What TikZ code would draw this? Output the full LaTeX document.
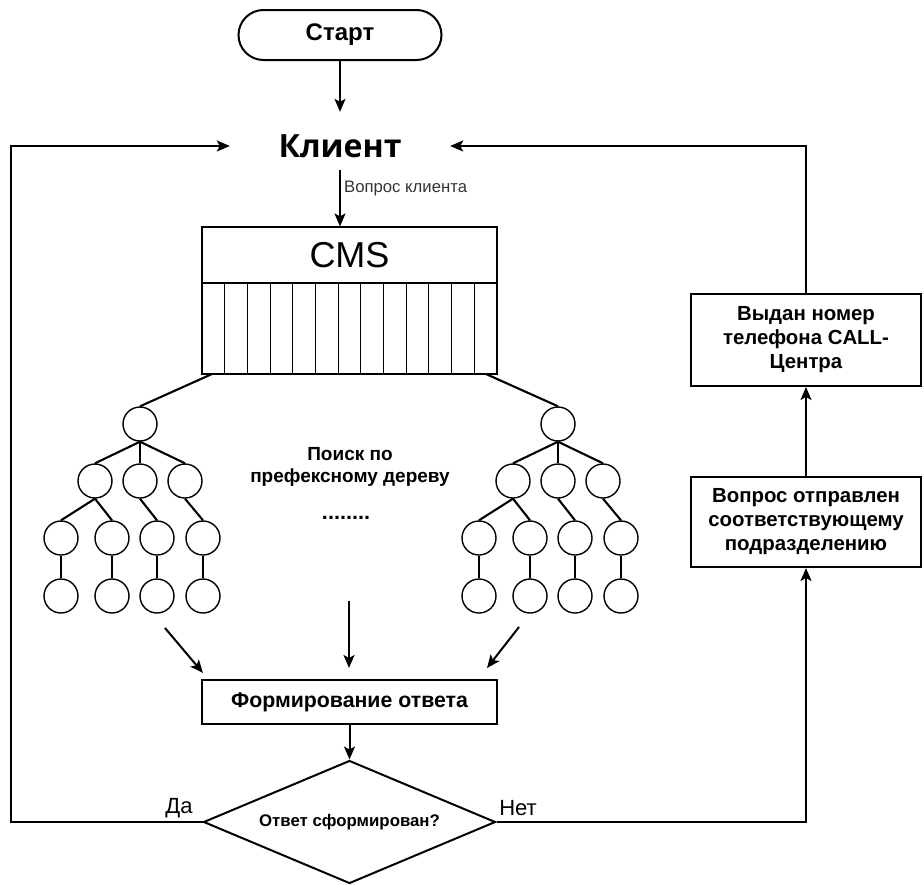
\documentclass[tikz,border=0pt]{standalone}
\usepackage{fontspec}
\setmainfont{Liberation Sans}
\newfontfamily\osans{Open Sans}
\usetikzlibrary{arrows.meta,shapes.geometric}
\begin{document}
\begin{tikzpicture}[x=1pt,y=-1pt,
  arr/.style={line width=2pt,-{Stealth[length=13pt,width=11pt,inset=3pt]}},
  box/.style={draw,line width=2pt,align=center,font=\bfseries\fontsize{20.4}{24}\selectfont,inner sep=0pt},
  tc/.style={draw,circle,line width=1.4pt,minimum size=34pt,inner sep=0pt},
  te/.style={line width=2.1pt}]
\useasboundingbox (0,0) rectangle (924,884);
% start
\node[draw,line width=2pt,rounded corners=25pt,minimum width=203pt,minimum height=50pt,inner sep=0pt,font=\bfseries\fontsize{24}{26}\selectfont] (start) at (340,35) {Старт};
\node[minimum width=220pt,minimum height=58pt,inner sep=0pt,font=\osans\bfseries\fontsize{32}{36}\selectfont] (client) at (340,146) {Клиент};
\draw[arr] (start.south) -- ([yshift=5pt]client.north);
% CMS
\node[draw,line width=1.1pt,minimum width=295pt,minimum height=147pt,inner sep=0pt] (cms) at (349.5,300.5) {};
\node[font=\fontsize{36}{40}\selectfont,inner sep=0pt] (cmst) at (349.5,255) {CMS};
\draw[line width=1.1pt] (cms.west |- 0,283) -- (cms.east |- 0,283);
\foreach \i in {1,...,12} \draw[line width=1.1pt] (202+\i*22.692,283) -- (202+\i*22.692,374);
\draw[arr] ([yshift=5pt]client.south) -- (client.south |- cms.north);
\node[anchor=west,text=black!80,font=\fontsize{16.7}{18}\selectfont,inner sep=0pt] (q) at (344,188) {Вопрос клиента};
% trees
\coordinate (cmsL) at (212,374);
\coordinate (cmsR) at (486,374);
\foreach \p/\dx in {L/0,R/418}{
\begin{scope}[xshift=\dx pt]
\node[tc] (\p0) at (140,424) {};
\node[tc] (\p1) at (95,481) {};
\node[tc] (\p2) at (140,481) {};
\node[tc] (\p3) at (185,481) {};
\node[tc] (\p4) at (61,538) {};
\node[tc] (\p5) at (112,538) {};
\node[tc] (\p6) at (157,538) {};
\node[tc] (\p7) at (203,538) {};
\node[tc] (\p8) at (61,596) {};
\node[tc] (\p9) at (112,596) {};
\node[tc] (\p10) at (157,596) {};
\node[tc] (\p11) at (203,596) {};
\end{scope}
\draw[te] (\p0.south) -- (\p1.north);
\draw[te] (\p0.south) -- (\p2.north);
\draw[te] (\p0.south) -- (\p3.north);
\draw[te] (\p1.south) -- (\p4.north);
\draw[te] (\p1.south) -- (\p5.north);
\draw[te] (\p2.south) -- (\p6.north);
\draw[te] (\p3.south) -- (\p7.north);
\draw[te] (\p4.south) -- (\p8.north);
\draw[te] (\p5.south) -- (\p9.north);
\draw[te] (\p6.south) -- (\p10.north);
\draw[te] (\p7.south) -- (\p11.north);
}
\draw[te] (cmsL) -- (L0.north);
\draw[te] (cmsR) -- (R0.north);
% middle text
\node[align=center,font=\bfseries\fontsize{19}{21.5}\selectfont,inner sep=0pt] (search) at (350,467) {Поиск по\\префексному дереву};
\node[font=\bfseries\fontsize{21.6}{24}\selectfont,inner sep=0pt] (dots) at (346,518) {........};
% arrows to formation
\coordinate (a1s) at (165,628); \coordinate (a1e) at (203,673);
\coordinate (a2s) at (349,601); \coordinate (a2e) at (349,668);
\coordinate (a3s) at (519,627); \coordinate (a3e) at (487,668);
\draw[arr] (a1s) -- (a1e);
\draw[arr] (a2s) -- (a2e);
\draw[arr] (a3s) -- (a3e);
% formation
\node[box,minimum width=295pt,minimum height=44pt,font=\bfseries\fontsize{21.3}{24}\selectfont] (form) at (349.5,702) {Формирование ответа};
\node[draw,diamond,aspect=2.374,line width=2pt,minimum width=292pt,minimum height=123pt,inner sep=0pt,font=\bfseries\fontsize{16.8}{18}\selectfont] (dia) at (349.5,822) {Ответ сформирован?};
\draw[arr] (form.south) -- (dia.north);
\node[font=\fontsize{22}{24}\selectfont,inner sep=0pt] (da) at (179,808) {Да};
\node[font=\fontsize{22}{24}\selectfont,inner sep=0pt] (net) at (518,808) {Нет};
% right boxes
\node[box,minimum width=230pt,minimum height=90pt] (qb) at (806,522) {Вопрос отправлен\\соответствующему\\подразделению};
\node[box,minimum width=230pt,minimum height=92pt] (vb) at (806,340) {Выдан номер\\телефона CALL-\\Центра};
\draw[arr] (qb.north) -- (vb.south);
\draw[arr] (dia.east) -| (qb.south);
\draw[arr] (vb.north) |- (client.east);
\coordinate (lc) at (11,146);
\draw[arr] (dia.west) -| (lc) -- (client.west);
\end{tikzpicture}
\end{document}
